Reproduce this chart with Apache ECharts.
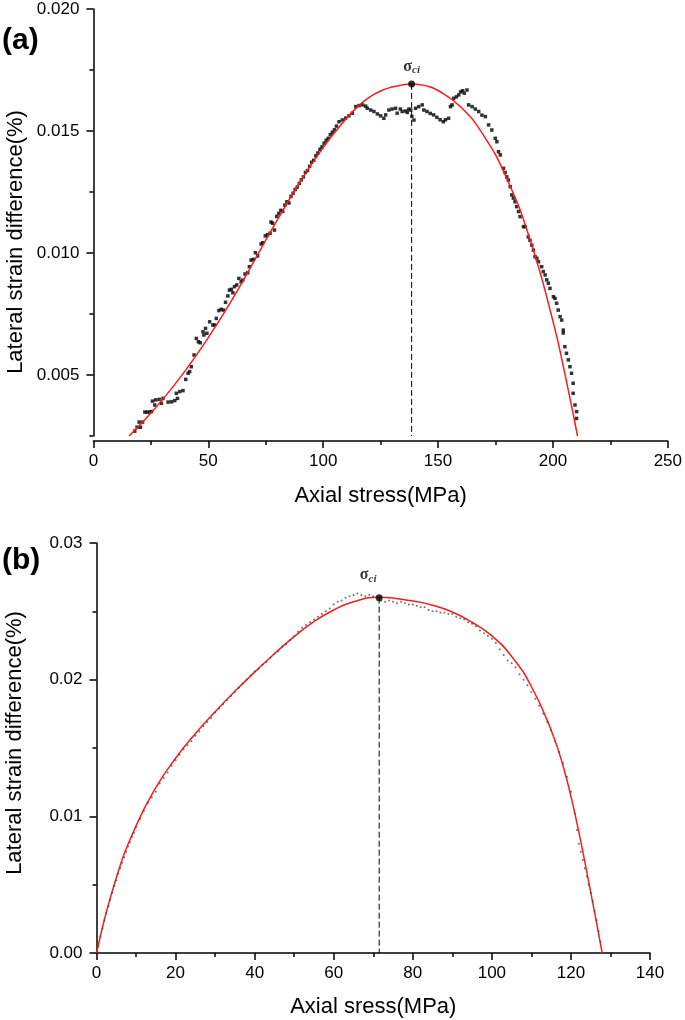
<!DOCTYPE html>
<html>
<head>
<meta charset="utf-8">
<script src="https://cdn.jsdelivr.net/npm/echarts@6/dist/echarts.min.js"></script>
<style>html,body{margin:0;padding:0;background:#fff}#c{width:685px;height:1020px}</style>
</head>
<body>
<div id="c"></div>
<script>
// ---------- Panel (a) ----------
const aDotX = [18.0,19.0,19.9,20.5,21.4,22.4,23.4,24.5,25.3,25.7,26.7,27.1,28.6,29.6,30.3,32.5,34.0,35.4,36.1,36.6,37.6,39.0,40.2,41.2,41.9,42.6,43.8,44.8,45.7,46.5,47.7,48.1,48.8,49.4,50.6,52.0,52.7,53.5,54.6,55.6,56.6,57.5,58.5,59.2,60.0,60.7,61.4,62.4,63.3,64.3,65.0,66.0,67.2,67.9,68.6,69.6,70.5,71.5,73.0,73.7,74.8,75.8,76.9,77.3,78.0,78.8,
79.8,80.7,81.6,82.4,83.3,84.2,85.1,86.0,86.9,87.8,88.7,89.6,90.5,91.4,92.3,93.2,94.1,95.0,95.9,96.8,97.7,98.6,99.5,100.4,101.3,102.2,103.1,104.0,104.9,105.8,
106.9,108.3,109.8,111.2,112.7,114.2,115.6,117.1,118.5,119.2,120.7,122.1,123.6,125.0,126.4,127.2,128.6,130.0,131.5,132.2,133.6,134.4,135.9,136.6,137.3,138.1,138.6,139.5,140.2,141.6,143.1,143.8,145.2,146.6,148.1,149.5,150.9,152.3,153.2,154.6,155.4,156.1,156.8,158.0,159.0,159.8,160.7,161.4,162.6,163.3,164.8,166.2,167.7,169.1,170.6,172.0,173.4,174.9,175.6,176.3,177.1,178.5,179.2,179.9,180.6,181.4,182.1,182.8,183.5,184.2,185.0,185.7,187.2,187.9,189.3,190.0,190.8,191.5,192.2,193.0,193.7,195.1,195.8,196.6,197.3,198.0,198.7,200.2,200.9,201.6,202.3,203.1,203.8,204.5,204.5,205.2,205.9,206.7,207.4,208.1,208.8,208.8,209.6,210.3,210.3];
const aDotY = [0.00270,0.00286,0.00307,0.00286,0.00307,0.00348,0.00348,0.00348,0.00350,0.00393,0.00377,0.00398,0.00400,0.00384,0.00404,0.00389,0.00390,0.00395,0.00425,0.00404,0.00432,0.00436,0.00482,0.00507,0.00514,0.00534,0.00582,0.00650,0.00636,0.00632,0.00677,0.00664,0.00691,0.00671,0.00718,0.00705,0.00705,0.00732,0.00764,0.00769,0.00766,0.00798,0.00824,0.00848,0.00851,0.00837,0.00862,0.00869,0.00896,0.00882,0.00889,0.00914,0.00919,0.00944,0.00971,0.00974,0.01001,0.00988,0.01037,0.01042,0.01070,0.01075,0.01081,0.01127,0.01122,0.01094,
0.01150,0.01162,0.01175,0.01170,0.01196,0.01210,0.01205,0.01232,0.01245,0.01260,0.01270,0.01285,0.01300,0.01312,0.01330,0.01338,0.01355,0.01372,0.01380,0.01398,0.01410,0.01425,0.01435,0.01450,0.01462,0.01470,0.01485,0.01495,0.01505,0.01520,
0.01538,0.01545,0.01553,0.01562,0.01573,0.01600,0.01604,0.01607,0.01602,0.01593,0.01586,0.01580,0.01570,0.01562,0.01552,0.01566,0.01586,0.01590,0.01593,0.01573,0.01590,0.01580,0.01582,0.01576,0.01590,0.01586,0.01560,0.01545,0.01593,0.01600,0.01607,0.01586,0.01580,0.01572,0.01566,0.01556,0.01546,0.01538,0.01546,0.01552,0.01600,0.01607,0.01634,0.01640,0.01648,0.01660,0.01665,0.01655,0.01668,0.01607,0.01600,0.01590,0.01580,0.01565,0.01559,0.01525,0.01504,0.01470,0.01456,0.01415,0.01402,0.01347,0.01330,0.01312,0.01299,0.01272,0.01238,0.01225,0.01210,0.01190,0.01170,0.01149,0.01108,0.01108,0.01066,0.01052,0.01032,0.01012,0.00985,0.00978,0.00964,0.00944,0.00924,0.00910,0.00890,0.00876,0.00855,0.00821,0.00814,0.00794,0.00766,0.00739,0.00725,0.00684,0.00672,0.00616,0.00589,0.00562,0.00534,0.00507,0.00466,0.00425,0.00377,0.00350,0.00322];
const aFitX = [15.5,20,30,40,50,60,70,80,90,100,110,115,120,125,130,134,138.5,145,150,160,170,180,190,200,205,210.7];
const aFitY = [0.0025,0.00293,0.00398,0.00518,0.00653,0.00803,0.00968,0.01135,0.01292,0.01432,0.01550,0.01600,0.01638,0.01664,0.01680,0.01688,0.01693,0.01685,0.01666,0.01597,0.01479,0.01303,0.01056,0.00721,0.00514,0.0025];
const aPeak = [138.5, 0.01693];
const aXTicks = [0, 50, 100, 150, 200, 250];
const aYMajor = [0.005, 0.010, 0.015, 0.020];
const aYMinor = [0.0025, 0.0075, 0.0125, 0.0175];

// ---------- Panel (b) ----------
const bDotX = [0.5,1,1.5,2,2.5,3,3.5,4,4.5,5,5.5,6,6.5,7,7.5,8,8.5,9,9.5,10,11,12,13,14,15,16,17,18,19,20,21,22,23,24,25,26,27,28,29,30,31,32,33,34,35,36,37,38,39,40,41,42,43,44,45,46,47,48,49,50,51,52,53,54,55,56,57,58,59,60,61,62,63,64,65,66,67,68,69,70,71,72,73,74,75,76,77,78,79,80,81,82,83,84,85,86,87,88,89,90,91,92,93,94,95,96,97,98,99,100,101,102,103,104,105,106,107,108,109,110,111,112,113,114,115,116,117,118,119,120,121,121.5,122,122.5,123,123.5,124,124.5,125,125.5,126,126.5,127,127.5];
const bDotY = [0.0005,0.0012,0.0018,0.0024,0.0029,0.0034,0.0039,0.0044,0.0049,0.0053,0.0058,0.0062,0.0066,0.0070,0.0074,0.0078,0.0081,0.0085,0.0088,0.0092,0.0098,0.0104,0.0110,0.0114,0.0118,0.0124,0.0128,0.0132,0.0137,0.0141,0.0145,0.0149,0.0152,0.0155,0.0159,0.0162,0.0166,0.0169,0.0172,0.0176,0.0179,0.0182,0.0185,0.0188,0.0191,0.0194,0.0197,0.0200,0.0203,0.0206,0.0208,0.0211,0.0213,0.0216,0.0219,0.0221,0.0224,0.0226,0.0229,0.0232,0.0235,0.0238,0.0240,0.0242,0.0244,0.0246,0.0248,0.0250,0.0252,0.0255,0.0257,0.0258,0.0260,0.0261,0.0262,0.0263,0.0262,0.0261,0.0262,0.0261,0.0260,0.0258,0.0257,0.0258,0.0257,0.0256,0.0257,0.0256,0.0255,0.0255,0.0254,0.0253,0.0253,0.0251,0.0250,0.0250,0.0249,0.0249,0.0248,0.0248,0.0246,0.0245,0.0244,0.0242,0.0241,0.0239,0.0236,0.0234,0.0232,0.0230,0.0227,0.0222,0.0218,0.0214,0.0212,0.0209,0.0204,0.0200,0.0196,0.0191,0.0186,0.0181,0.0175,0.0169,0.0163,0.0155,0.0147,0.0139,0.0129,0.0118,0.0102,0.0090,0.0080,0.0074,0.0068,0.0062,0.0056,0.0050,0.0044,0.0038,0.0031,0.0024,0.0016,0.0008];
const bFitX = [0,5,10,15,20,25,30,35,40,45,50,55,60,65,71.5,80,85,90,95,100,105,110,115,118,121,124.5,127.9];
const bFitY = [0,0.0055,0.0093,0.0121,0.01425,0.01605,0.01765,0.01915,0.02055,0.0219,0.02315,0.02425,0.0251,0.0257,0.02603,0.02575,0.02545,0.02495,0.0242,0.0232,0.0217,0.0195,0.0163,0.0137,0.0102,0.0052,0];
const bPeak = [71.5, 0.0260];

const zip = (xs, ys) => xs.map((x, i) => [x, ys[i]]);
const FONT = "'Liberation Sans', Arial, sans-serif";
const axisLine = {show: true, onZero: false, lineStyle: {color: '#000', width: 1.5}};
const sigmaLabel = (offset) => ({
  show: true, position: 'top', distance: 4, offset: offset,
  formatter: '{s|σ}{c|ci}',
  rich: {
    s: {fontFamily: "'Liberation Serif', serif", fontWeight: 'bold', fontSize: 16, color: '#000'},
    c: {fontFamily: "'Liberation Serif', serif", fontWeight: 'bold', fontStyle: 'italic', fontSize: 11, color: '#000', padding: [7, 0, 0, 0]}
  }
});

const chart = echarts.init(document.getElementById('c'), null, {renderer: 'canvas'});
chart.setOption({
  animation: false,
  backgroundColor: '#fff',
  textStyle: {fontFamily: FONT},
  grid: [
    {left: 93.4, top: 9, width: 576.5, height: 427},
    {left: 96.5, top: 543, width: 553.5, height: 410}
  ],
  xAxis: [
    {gridIndex: 0, type: 'value', min: 0, max: 250, interval: 50, offset: 5,
     axisLine: axisLine,
     axisTick: {show: true, length: 7, lineStyle: {color: '#000', width: 1.5}},
     minorTick: {show: true, splitNumber: 2, length: 4, lineStyle: {color: '#000', width: 1.5}},
     axisLabel: {fontSize: 17, color: '#000', margin: 12, customValues: aXTicks},
     splitLine: {show: false},
     name: 'Axial stress(MPa)', nameLocation: 'middle', nameGap: 44,
     nameTextStyle: {fontSize: 22, color: '#000'}},
    {gridIndex: 1, type: 'value', min: 0, max: 140, interval: 20,
     axisLine: axisLine,
     axisTick: {show: true, length: 7, lineStyle: {color: '#000', width: 1.5}},
     minorTick: {show: true, splitNumber: 2, length: 4, lineStyle: {color: '#000', width: 1.5}},
     axisLabel: {fontSize: 17, color: '#000', margin: 12},
     splitLine: {show: false},
     name: 'Axial sress(MPa)', nameLocation: 'middle', nameGap: 43,
     nameTextStyle: {fontSize: 22, color: '#000'}}
  ],
  yAxis: [
    {gridIndex: 0, type: 'value', min: 0.0025, max: 0.020, position: 'left',
     axisLine: axisLine,
     axisTick: {show: true, length: 7, customValues: aYMajor, lineStyle: {color: '#000', width: 1.5}},
     axisLabel: {fontSize: 17, color: '#000', margin: 14, customValues: aYMajor, formatter: v => v.toFixed(3)},
     splitLine: {show: false}},
    {gridIndex: 0, type: 'value', min: 0.0025, max: 0.020, position: 'left',
     axisLine: {show: false},
     axisTick: {show: true, length: 4, customValues: aYMinor, lineStyle: {color: '#000', width: 1.5}},
     axisLabel: {show: false},
     splitLine: {show: false}},
    {gridIndex: 1, type: 'value', min: 0, max: 0.03, interval: 0.01, position: 'left',
     axisLine: axisLine,
     axisTick: {show: true, length: 7, lineStyle: {color: '#000', width: 1.5}},
     minorTick: {show: true, splitNumber: 2, length: 4, lineStyle: {color: '#000', width: 1.5}},
     axisLabel: {fontSize: 17, color: '#000', margin: 14, formatter: v => v.toFixed(2)},
     splitLine: {show: false}}
  ],
  series: [
    {type: 'scatter', xAxisIndex: 0, yAxisIndex: 0, data: zip(aDotX, aDotY),
     symbol: 'rect', symbolSize: 3.5, itemStyle: {color: '#000'}, silent: true, z: 2},
    {type: 'line', xAxisIndex: 0, yAxisIndex: 0, data: zip(aFitX, aFitY),
     smooth: 0.5, showSymbol: false, lineStyle: {color: '#ff1a1a', width: 1.5}, silent: true, z: 3},
    {type: 'line', xAxisIndex: 0, yAxisIndex: 0, data: [[aPeak[0], aPeak[1]], [aPeak[0], 0.0025]],
     showSymbol: false, lineStyle: {color: '#000', width: 1, type: [6, 3]}, silent: true, z: 3},
    {type: 'scatter', xAxisIndex: 0, yAxisIndex: 0, data: [aPeak],
     symbol: 'circle', symbolSize: 7, itemStyle: {color: '#000'}, label: sigmaLabel([0, -1]), silent: true, z: 5},

    {type: 'scatter', xAxisIndex: 1, yAxisIndex: 2, data: zip(bDotX, bDotY),
     symbol: 'circle', symbolSize: 2, itemStyle: {color: '#444', opacity: 0.75}, silent: true, z: 4},
    {type: 'line', xAxisIndex: 1, yAxisIndex: 2, data: zip(bFitX, bFitY),
     smooth: 0.5, showSymbol: false, lineStyle: {color: '#ff1a1a', width: 1.5}, silent: true, z: 3},
    {type: 'line', xAxisIndex: 1, yAxisIndex: 2, data: [[bPeak[0], bPeak[1]], [bPeak[0], 0]],
     showSymbol: false, lineStyle: {color: '#000', width: 1, type: [6, 3]}, silent: true, z: 3},
    {type: 'scatter', xAxisIndex: 1, yAxisIndex: 2, data: [bPeak],
     symbol: 'circle', symbolSize: 7, itemStyle: {color: '#000'}, label: sigmaLabel([-11, -6]), silent: true, z: 5}
  ],
  graphic: [
    {type: 'text', left: 2, top: 26, style: {text: '(a)', font: "bold 30px 'Liberation Sans', Arial", fill: '#000'}},
    {type: 'text', left: 2, top: 546, style: {text: '(b)', font: "bold 30px 'Liberation Sans', Arial", fill: '#000'}},
    {type: 'text', x: 16, y: 242, rotation: Math.PI / 2,
     style: {text: 'Lateral strain difference(%)', x: 0, y: 0, align: 'center', verticalAlign: 'middle', font: "22px 'Liberation Sans', Arial", fill: '#000'}},
    {type: 'text', x: 15, y: 743, rotation: Math.PI / 2,
     style: {text: 'Lateral strain difference(%)', x: 0, y: 0, align: 'center', verticalAlign: 'middle', font: "22px 'Liberation Sans', Arial", fill: '#000'}}
  ]
});
</script>
</body>
</html>
